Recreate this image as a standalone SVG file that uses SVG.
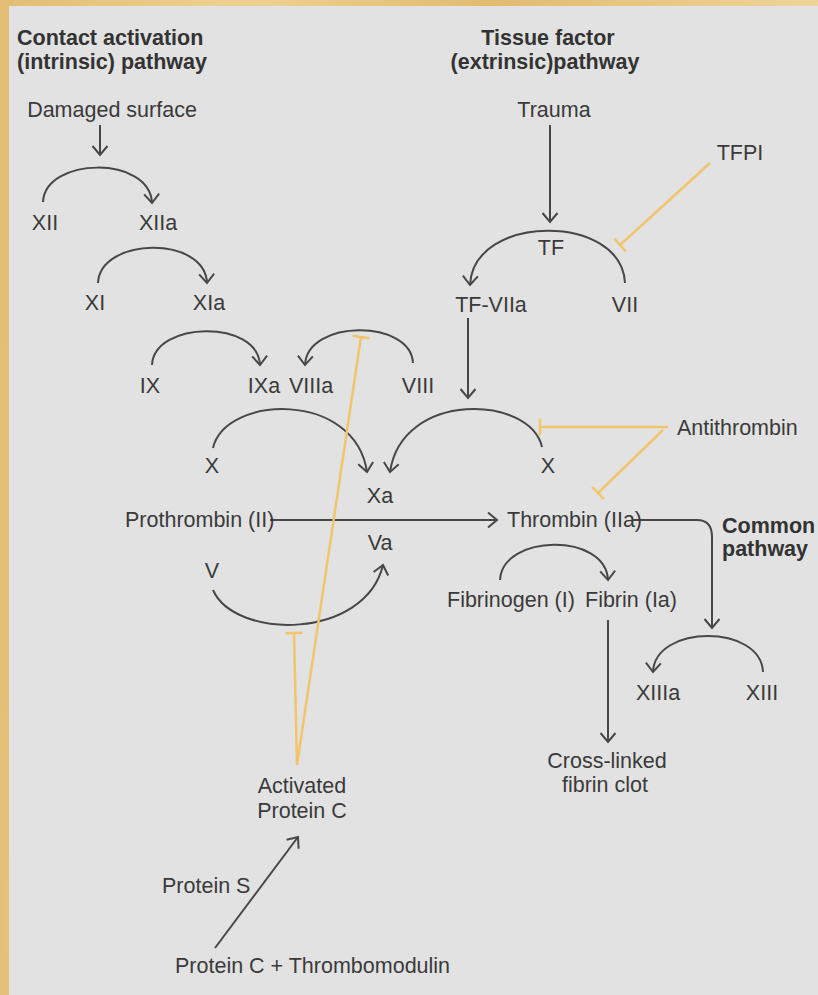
<svg xmlns="http://www.w3.org/2000/svg" width="818" height="995" viewBox="0 0 818 995">
<defs>
<linearGradient id="gold" x1="0" y1="0" x2="1" y2="0.05">
<stop offset="0" stop-color="#e3bd73"/>
<stop offset="0.3" stop-color="#eed192"/>
<stop offset="0.6" stop-color="#e2bb70"/>
<stop offset="1" stop-color="#efd49a"/>
</linearGradient>
<marker id="arr" viewBox="-12 -10 14 20" refX="0" refY="0" markerWidth="14" markerHeight="20" markerUnits="userSpaceOnUse" orient="auto">
<path d="M-9,-7.5 L0,0 L-9,7.5" fill="none" stroke="#474747" stroke-width="2" stroke-linejoin="miter"/>
</marker>
<marker id="tbar" viewBox="-3 -10 6 20" refX="0" refY="0" markerWidth="6" markerHeight="20" markerUnits="userSpaceOnUse" orient="auto">
<path d="M0,-8.5 L0,8.5" fill="none" stroke="#f1c56c" stroke-width="2.5"/>
</marker>
</defs>
<style>
text{font-family:"Liberation Sans",Arial,sans-serif;font-size:21.5px;fill:#3a3a3a}
.b{font-weight:bold;font-size:21.5px;fill:#333}
.m{text-anchor:middle}
.la{fill:none;stroke:#474747;stroke-width:2;marker-end:url(#arr)}
.inh{fill:none;stroke:#f1c56c;stroke-width:2.5;marker-end:url(#tbar)}
</style>
<rect x="0" y="0" width="818" height="995" fill="url(#gold)"/>
<rect x="9" y="6" width="809" height="989" fill="#e2e2e2"/>

<g id="connectors">
<path class="la" d="M100,125 V155"/>
<path class="la" d="M43,202 C45,157 150,155 152,203"/>
<path class="la" d="M98,283 C100,237 205,235 207,283"/>
<path class="la" d="M152,365 C154,321 258,319 260,365"/>
<path class="la" d="M413,363 C411,319 307,319 305,365"/>
<path class="la" d="M550,125 V222"/>
<path class="la" d="M625,283 C622,213 473,213 470,285"/>
<path class="la" d="M468,318 V398"/>
<path class="la" d="M213,448 C225,395 355,390 367,472"/>
<path class="la" d="M542,447 C530,395 402,390 390,472"/>
<path class="la" d="M213,590 C235,640 365,640 383,565"/>
<path class="la" d="M270,520 H497"/>
<path class="la" d="M633,520 H697 Q712,520 712,537 V628"/>
<path class="la" d="M500,580 C502,534 606,532 608,580"/>
<path class="la" d="M608,620 V742"/>
<path class="la" d="M763,672 C761,624 655,624 653,672"/>
<path class="la" d="M215,948 L298,837"/>
<path class="inh" d="M710,163 L620,245"/>
<path class="inh" d="M668,427 L540,427"/>
<path class="inh" d="M663,430 L598,493"/>
<path class="inh" d="M297,765 L361,337"/>
<path class="inh" d="M297,765 L294,633"/>
</g>

<g id="title-intrinsic"><text class="b" x="17" y="45">Contact activation</text><text class="b" x="17" y="69">(intrinsic) pathway</text></g>
<g id="title-extrinsic"><text class="b m" x="548" y="45">Tissue factor</text><text class="b m" x="545" y="69">(extrinsic)pathway</text></g>
<g id="title-common"><text class="b" x="722" y="533">Common</text><text class="b" x="722" y="556">pathway</text></g>
<g id="damaged-surface"><text class="m" x="112" y="117">Damaged surface</text></g>
<g id="xii"><text class="m" x="45" y="230">XII</text></g>
<g id="xiia"><text class="m" x="158" y="230">XIIa</text></g>
<g id="xi"><text class="m" x="95" y="310">XI</text></g>
<g id="xia"><text class="m" x="209" y="310">XIa</text></g>
<g id="trauma"><text class="m" x="554" y="117">Trauma</text></g>
<g id="tfpi"><text class="m" x="740" y="160">TFPI</text></g>
<g id="tf"><text class="m" x="551" y="255">TF</text></g>
<g id="tf-viia"><text class="m" x="491" y="312">TF-VIIa</text></g>
<g id="vii"><text class="m" x="625" y="312">VII</text></g>
<g id="ix"><text class="m" x="150" y="393">IX</text></g>
<g id="ixa"><text class="m" x="264" y="393">IXa</text></g>
<g id="viiia"><text class="m" x="311" y="393">VIIIa</text></g>
<g id="viii"><text class="m" x="418" y="393">VIII</text></g>
<g id="x-left"><text class="m" x="212" y="473">X</text></g>
<g id="x-right"><text class="m" x="548" y="473">X</text></g>
<g id="antithrombin"><text x="677" y="435">Antithrombin</text></g>
<g id="xa"><text class="m" x="380" y="503">Xa</text></g>
<g id="prothrombin"><text x="125" y="527">Prothrombin (II)</text></g>
<g id="thrombin"><text x="507" y="527">Thrombin (IIa)</text></g>
<g id="va"><text class="m" x="380" y="550">Va</text></g>
<g id="v"><text class="m" x="212" y="578">V</text></g>
<g id="fibrinogen"><text x="447" y="607">Fibrinogen (I)</text></g>
<g id="fibrin"><text x="585" y="607">Fibrin (Ia)</text></g>
<g id="xiiia"><text class="m" x="658" y="700">XIIIa</text></g>
<g id="xiii"><text class="m" x="762" y="700">XIII</text></g>
<g id="clot"><text class="m" x="607" y="768">Cross-linked</text><text class="m" x="605" y="792">fibrin clot</text></g>
<g id="apc"><text class="m" x="302" y="793">Activated</text><text class="m" x="302" y="818">Protein C</text></g>
<g id="protein-s"><text x="162" y="893">Protein S</text></g>
<g id="protein-c-tm"><text x="175" y="973">Protein C + Thrombomodulin</text></g>
</svg>
